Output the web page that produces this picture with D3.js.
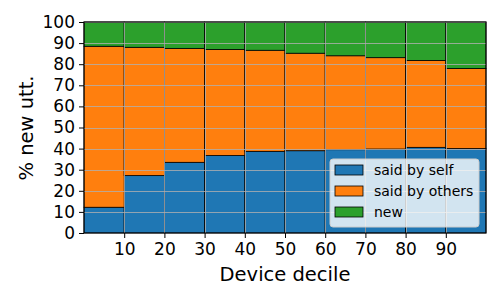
<!DOCTYPE html>
<html>
<head>
<meta charset="utf-8">
<script src="https://cdn.jsdelivr.net/npm/d3@7"></script>
<style>
  body { margin: 0; background: white; }
  text { font-family: "DejaVu Sans", sans-serif; }
</style>
</head>
<body>
<div id="here"></div>
<script>
var w = 500, h = 300;
var margin = {top: 22, right: 14, bottom: 67, left: 84};

// decile upper bounds
var deciles = [10, 20, 30, 40, 50, 60, 70, 80, 90, 100];
var saidBySelf   = [12.2, 27.2, 33.5, 36.7, 38.7, 39.0, 39.5, 39.8, 40.6, 40.0];
var saidByOthers = [76.3, 60.8, 54.0, 50.3, 47.9, 46.2, 44.5, 43.3, 41.2, 38.0];
var newUtt       = [11.5, 12.0, 12.5, 13.0, 13.4, 14.8, 16.0, 16.9, 18.2, 22.0];

var seriesNames = ['said by self', 'said by others', 'new'];
var seriesColors = ['#1f77b4', '#ff7f0e', '#2ca02c'];
var xTicks = [10, 20, 30, 40, 50, 60, 70, 80, 90];
var yTicks = [0, 10, 20, 30, 40, 50, 60, 70, 80, 90, 100];

var rows = deciles.map(function(d, i) {
  return {decile: d, self: saidBySelf[i], others: saidByOthers[i], 'new': newUtt[i]};
});

var stack = d3.stack().keys(['self', 'others', 'new']);
var layers = stack(rows);

var iw = w - margin.left - margin.right, ih = h - margin.top - margin.bottom;

var x = d3.scaleLinear().domain([0, 100]).range([0, iw]);
var y = d3.scaleLinear().domain([0, 100]).range([ih, 0]);

var svg = d3.select('#here').append('svg')
  .attr('width', w)
  .attr('height', h)
  .append('g')
  .attr('transform', 'translate(' + margin.left + ',' + margin.top + ')');

// bars
svg.selectAll('.layer')
  .data(layers)
  .enter().append('g')
  .attr('fill', function(d, i) { return seriesColors[i]; })
  .selectAll('rect')
  .data(function(d) { return d; })
  .enter().append('rect')
  .attr('x', function(d) { return x(d.data.decile - 10); })
  .attr('width', function(d) { return x(10) - x(0); })
  .attr('y', function(d) { return y(d[1]); })
  .attr('height', function(d) { return y(d[0]) - y(d[1]); })
  .attr('stroke', 'black')
  .attr('stroke-width', 0.8);

// grid on top
var grid = svg.append('g').attr('stroke', '#b0b0b0').attr('stroke-width', 0.8);
grid.selectAll('.gy').data(yTicks).enter().append('line')
  .attr('x1', 0).attr('x2', iw)
  .attr('y1', function(d) { return Math.round(y(d)) + 0.5; })
  .attr('y2', function(d) { return Math.round(y(d)) + 0.5; });
grid.selectAll('.gx').data(xTicks).enter().append('line')
  .attr('y1', 0).attr('y2', ih)
  .attr('x1', function(d) { return Math.round(x(d)) + 0.5; })
  .attr('x2', function(d) { return Math.round(x(d)) + 0.5; });

// frame
svg.append('rect')
  .attr('width', iw).attr('height', ih)
  .attr('fill', 'none').attr('stroke', 'black').attr('stroke-width', 1);

// axes
var xAxis = svg.append('g')
  .attr('transform', 'translate(0,' + ih + ')')
  .call(d3.axisBottom(x).tickValues(xTicks).tickSize(5).tickPadding(5));
var yAxis = svg.append('g')
  .call(d3.axisLeft(y).tickValues(yTicks).tickSize(5).tickPadding(4));
[xAxis, yAxis].forEach(function(a) {
  a.select('.domain').remove();
  a.selectAll('text').style('font-size', '17px').attr('fill', '#000')
    .style('font-family', '"DejaVu Sans", sans-serif');
  a.selectAll('line').attr('stroke', '#000');
});

// axis labels
svg.append('text')
  .attr('x', iw / 2).attr('y', ih + 48)
  .attr('text-anchor', 'middle')
  .style('font-size', '19.5px')
  .text('Device decile');

svg.append('text')
  .attr('transform', 'translate(' + (26 - margin.left) + ',' + (128 - margin.top) + ') rotate(-90)')
  .attr('text-anchor', 'middle')
  .attr('dy', '0.35em')
  .style('font-size', '19.5px')
  .text('% new utt.');

// legend
var lg = svg.append('g').attr('transform', 'translate(' + (330 - margin.left) + ',' + (159 - margin.top) + ')');
lg.append('rect')
  .attr('width', 149).attr('height', 68)
  .attr('rx', 3)
  .attr('fill', 'white').attr('fill-opacity', 0.8)
  .attr('stroke', '#cccccc');
var items = lg.selectAll('.item')
  .data(seriesNames)
  .enter().append('g')
  .attr('transform', function(d, i) { return 'translate(5,' + (11 + i * 21) + ')'; });
items.append('rect')
  .attr('y', -5).attr('width', 28).attr('height', 10)
  .attr('fill', function(d, i) { return seriesColors[i]; })
  .attr('stroke', 'black').attr('stroke-width', 0.8);
items.append('text')
  .attr('x', 39).attr('dy', '0.35em')
  .style('font-size', '14px')
  .text(function(d) { return d; });
</script>
</body>
</html>
